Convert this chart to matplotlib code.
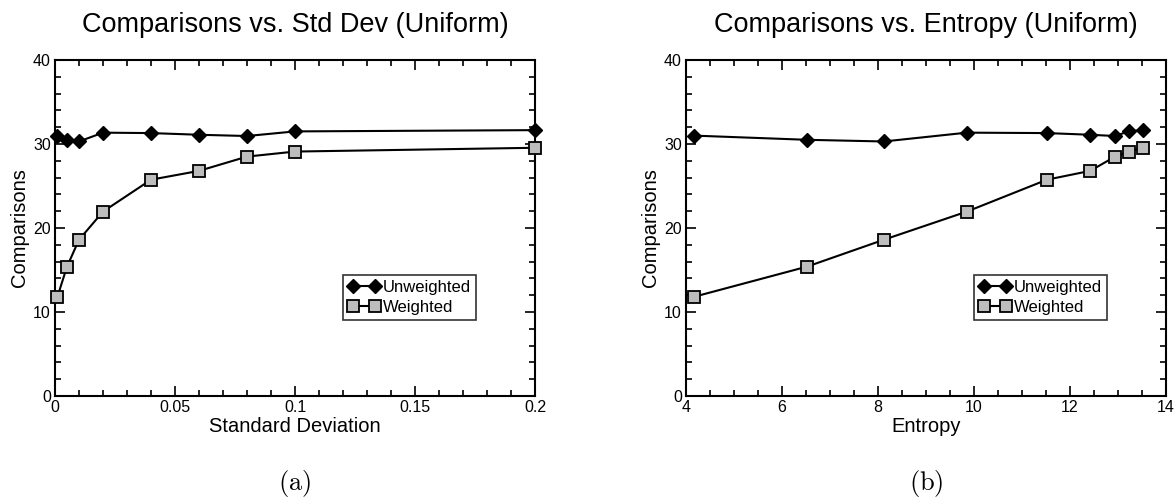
import matplotlib
matplotlib.use("Agg")
import matplotlib.pyplot as plt
from matplotlib.ticker import MultipleLocator, FuncFormatter

plt.rcParams['font.family'] = ['Liberation Sans', 'DejaVu Sans']
plt.rcParams['mathtext.fontset'] = 'cm'

# data
std_dev = [0.001, 0.005, 0.01, 0.02, 0.04, 0.06, 0.08, 0.1, 0.2]
entropy = [4.16, 6.52, 8.12, 9.85, 11.52, 12.42, 12.94, 13.22, 13.52]
unweighted = [31.0, 30.5, 30.3, 31.35, 31.3, 31.1, 30.95, 31.5, 31.65]
weighted = [11.8, 15.4, 18.6, 21.95, 25.75, 26.8, 28.5, 29.1, 29.55]

titles = ["Comparisons vs. Std Dev (Uniform)", "Comparisons vs. Entropy (Uniform)"]
xlabels = ["Standard Deviation", "Entropy"]
captions = ["(a)", "(b)"]

W, H = 1175, 498
fig = plt.figure(figsize=(W / 100, H / 100), dpi=100)

# axes boxes in pixels: left, top, right, bottom
boxes = [(55, 60, 535, 396), (686, 60, 1166, 396)]


def fmt(v, pos):
    return "%g" % round(v, 6)


for i, (l, t, r, b) in enumerate(boxes):
    ax = fig.add_axes([l / W, 1 - b / H, (r - l) / W, (b - t) / H])
    xs = std_dev if i == 0 else entropy
    ax.plot(xs, unweighted, color='black', lw=1.5, marker='D', ms=7.5,
            mfc='black', mec='black', label='Unweighted', clip_on=False, zorder=3)
    ax.plot(xs, weighted, color='black', lw=1.5, marker='s', ms=8,
            mfc='#bdbdbd', mec='black', mew=1.3, label='Weighted', clip_on=False, zorder=3)

    if i == 0:
        ax.set_xlim(0, 0.2)
        ax.xaxis.set_major_locator(MultipleLocator(0.05))
        ax.xaxis.set_minor_locator(MultipleLocator(0.01))
    else:
        ax.set_xlim(4, 14)
        ax.xaxis.set_major_locator(MultipleLocator(2))
        ax.xaxis.set_minor_locator(MultipleLocator(0.5))
    ax.set_ylim(0, 40)
    ax.yaxis.set_major_locator(MultipleLocator(10))
    ax.yaxis.set_minor_locator(MultipleLocator(2))
    ax.xaxis.set_major_formatter(FuncFormatter(fmt))

    ax.tick_params(which='both', direction='in', top=True, right=True,
                   width=1.2, labelsize=11.5, pad=3)
    ax.tick_params(which='major', length=7)
    ax.tick_params(which='minor', length=4)
    for sp in ax.spines.values():
        sp.set_linewidth(1.5)

    ax.set_xlabel(xlabels[i], fontsize=14.5, labelpad=1)
    ax.set_ylabel("Comparisons", fontsize=14.5, labelpad=3)
    ax.set_title(titles[i], fontsize=19.5, pad=20)

    leg = ax.legend(loc='upper left', bbox_to_anchor=(0.6, 0.36), fontsize=12,
                    frameon=True, fancybox=False, edgecolor='black', numpoints=2,
                    handlelength=1.9, handletextpad=0.2, borderpad=0.3,
                    labelspacing=0.3, borderaxespad=0, markerscale=1.0)
    leg.get_frame().set_linewidth(1.2)

    fig.text(((l + r) / 2) / W, 1 - 483 / H, r"$\mathrm{" + captions[i] + "}$",
             ha='center', va='center', fontsize=19)

fig.savefig("out.png", dpi=100)
